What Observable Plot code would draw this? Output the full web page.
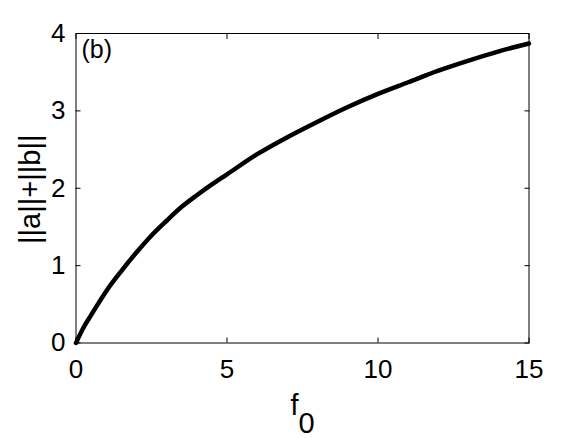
<!DOCTYPE html>
<html>
<head>
<meta charset="utf-8">
<script src="https://cdn.jsdelivr.net/npm/d3@7"></script>
<script src="https://cdn.jsdelivr.net/npm/@observablehq/plot@0.6"></script>
<style>
  html, body { margin: 0; padding: 0; background: #fff; }
</style>
</head>
<body>
<div id="chart"></div>
<script>
// Data
const f0Values = [0, 0.25, 0.5, 1, 1.5, 2, 2.5, 3, 3.5, 4, 4.5, 5, 6, 7, 8, 9, 10, 11, 12, 13, 14, 15];
const normSum  = [0, 0.20, 0.36, 0.67, 0.93, 1.17, 1.39, 1.58, 1.76, 1.91, 2.05, 2.18, 2.44, 2.66, 2.86, 3.05, 3.22, 3.37, 3.52, 3.65, 3.77, 3.87];
const xTicks = [0, 5, 10, 15];
const yTicks = [0, 1, 2, 3, 4];
const panelLabel = "(b)";
const yLabel = "||a||+||b||";
const xLabelMain = "f";
const xLabelSub = "0";

const rows = f0Values.map((f, i) => ({f0: f, v: normSum[i]}));

const font = "'Liberation Sans', Arial, Helvetica, sans-serif";

const chart = Plot.plot({
  width: 583,
  height: 438,
  marginLeft: 75.5,
  marginRight: 54.5,
  marginTop: 33,
  marginBottom: 95.5,
  style: {fontFamily: font, fontSize: "26px", background: "#fff", color: "#000"},
  x: {domain: [0, 15]},
  y: {domain: [0, 4]},
  marks: [
    Plot.frame({stroke: "#000", strokeWidth: 1}),
    Plot.axisX({anchor: "bottom", ticks: xTicks, tickSize: -5, tickPadding: 22, tickFormat: d => String(d), fontSize: 26, label: null, stroke: "#000"}),
    Plot.axisX({anchor: "top", ticks: xTicks, tickSize: -5, tickFormat: () => "", label: null, stroke: "#000"}),
    Plot.axisY({anchor: "left", ticks: yTicks, tickSize: -5, tickPadding: 15.5, tickFormat: d => String(d), fontSize: 26, label: null, stroke: "#000"}),
    Plot.axisY({anchor: "right", ticks: yTicks, tickSize: -5, tickFormat: () => "", label: null, stroke: "#000"}),
    Plot.line(rows, {x: "f0", y: "v", stroke: "#000", strokeWidth: 4.5, curve: "monotone-x"}),
    Plot.text([panelLabel], {text: d => d, frameAnchor: "top-left", textAnchor: "start", lineAnchor: "top", dx: 5.5, dy: 7, fontSize: 25, fill: "#000"}),
    Plot.text([yLabel], {text: d => d, frameAnchor: "left", rotate: -90, textAnchor: "middle", lineAnchor: "top", dx: -57, dy: 1, fontSize: 29, fill: "#000"}),
    Plot.text([xLabelMain], {text: d => d, frameAnchor: "bottom", textAnchor: "start", lineAnchor: "bottom", dx: -12, dy: 72, fontSize: 29, fill: "#000"}),
    Plot.text([xLabelSub], {text: d => d, frameAnchor: "bottom", textAnchor: "start", lineAnchor: "bottom", dx: -4, dy: 90, fontSize: 29, fill: "#000"})
  ]
});

document.getElementById("chart").appendChild(chart);
</script>
</body>
</html>
